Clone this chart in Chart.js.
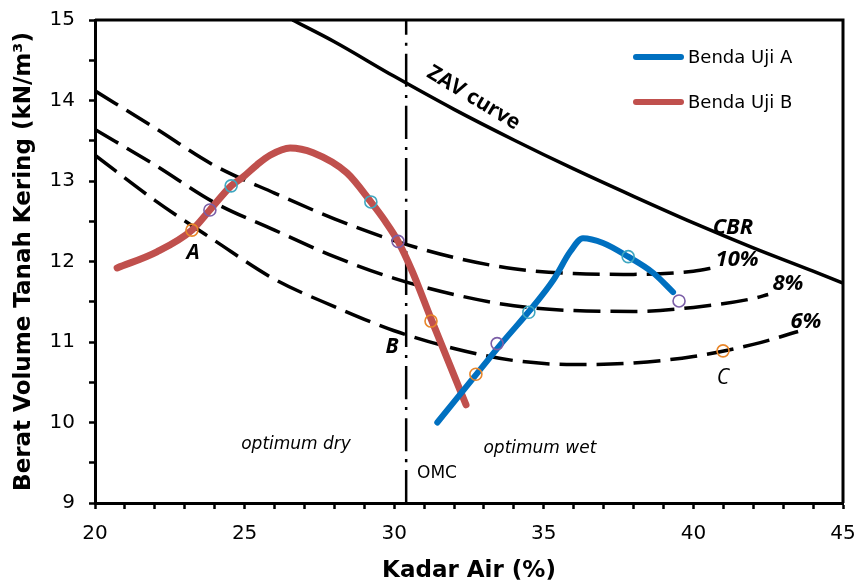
<!DOCTYPE html>
<html>
<head>
<meta charset="utf-8">
<script src="https://cdn.jsdelivr.net/npm/chart.js@4.4.0/dist/chart.umd.min.js"></script>
<style>
  html, body { margin: 0; padding: 0; background: #fff; }
  canvas { display: block; }
</style>
</head>
<body>
<canvas id="chart" width="861" height="586"></canvas>
<script>
'use strict'

// data
const bendaA_x = [31.44, 33.4, 35.32, 35.88, 36.31, 36.98, 37.82, 38.65, 39.32]
const bendaA_y = [10.0, 10.9, 11.77, 12.12, 12.29, 12.23, 12.06, 11.86, 11.62]

const bendaB_x = [20.74, 22.07, 23.24, 23.84, 24.55, 24.95, 25.41, 25.85, 26.52, 27.29, 28.42, 29.22, 29.7, 30.13, 30.6, 31.23, 32.4]
const bendaB_y = [11.92, 12.12, 12.39, 12.64, 12.94, 13.05, 13.2, 13.32, 13.41, 13.35, 13.1, 12.74, 12.5, 12.25, 11.88, 11.29, 10.22]

const zav_x = [26.6, 28, 30, 32, 34, 36, 38, 40, 42, 44, 45]
const zav_y = [15.0, 14.73, 14.3, 13.89, 13.51, 13.15, 12.81, 12.48, 12.17, 11.88, 11.73]

const cbr10_x = [20, 22, 24, 26, 28, 30, 32, 34, 36, 38, 40, 40.8]
const cbr10_y = [14.12, 13.66, 13.19, 12.85, 12.53, 12.26, 12.05, 11.91, 11.85, 11.84, 11.88, 11.93]

const cbr8_x = [20, 22, 24, 26, 28, 30, 32, 34, 36, 38, 40, 42, 42.5]
const cbr8_y = [13.64, 13.2, 12.73, 12.39, 12.06, 11.79, 11.59, 11.45, 11.39, 11.38, 11.43, 11.54, 11.59]

const cbr6_x = [20, 22, 24, 26, 28, 30, 32, 34, 36, 38, 40, 42, 43.5]
const cbr6_y = [13.32, 12.76, 12.26, 11.78, 11.44, 11.14, 10.92, 10.77, 10.72, 10.74, 10.82, 10.97, 11.13]

const omc_x = [30.4, 30.4]
const omc_y = [9, 15]

// circle markers
const orange_x = [23.24, 31.23, 32.73, 40.99]
const orange_y = [12.39, 11.26, 10.6, 10.89]
const purple_x = [23.84, 30.13, 33.44, 39.52]
const purple_y = [12.64, 12.25, 10.98, 11.51]
const cyan_x = [24.55, 29.22, 34.5, 37.82]
const cyan_y = [12.94, 12.74, 11.37, 12.06]

const xTickLabels = [20, 25, 30, 35, 40, 45]
const yTickLabels = [9, 10, 11, 12, 13, 14, 15]

function pts(xs, ys) {
  return xs.map((x, i) => ({ x: x, y: ys[i] }))
}

const BLUE = '#0070C0'
const RED = '#C0504D'

function lineSet(label, xs, ys, color, width, extra) {
  return Object.assign({
    label: label,
    data: pts(xs, ys),
    showLine: true,
    borderColor: color,
    borderWidth: width,
    pointRadius: 0,
    pointHoverRadius: 0,
    fill: false,
    cubicInterpolationMode: 'monotone',
    order: 2
  }, extra || {})
}

function circleSet(label, xs, ys, color) {
  return {
    label: label,
    data: pts(xs, ys),
    showLine: false,
    pointRadius: 6,
    pointBorderWidth: 1.6,
    pointBorderColor: color,
    pointBackgroundColor: 'rgba(0,0,0,0)',
    order: 0
  }
}

const notes = [
  { text: 'A', x: 23.28, y: 12.11, font: 'italic bold 21px "Open Sans"' },
  { text: 'B', x: 29.93, y: 10.94, font: 'italic bold 21px "Open Sans"' },
  { text: 'C', x: 40.99, y: 10.55, font: 'italic 21px "Open Sans"' },
  { text: 'CBR', x: 41.32, y: 12.42, font: 'italic bold 22px "Open Sans"' },
  { text: '10%', x: 41.46, y: 12.02, font: 'italic bold 22px "Open Sans"' },
  { text: '8%', x: 43.16, y: 11.73, font: 'italic bold 22px "Open Sans"' },
  { text: '6%', x: 43.76, y: 11.25, font: 'italic bold 22px "Open Sans"' },
  { text: 'ZAV curve', x: 32.65, y: 14.03, font: 'bold 21px "Open Sans"', rot: 31 },
  { text: 'optimum dry', x: 26.72, y: 9.73, font: 'italic 17px "DejaVu Sans"' },
  { text: 'optimum wet', x: 34.87, y: 9.68, font: 'italic 17px "DejaVu Sans"' },
  { text: 'OMC', x: 31.43, y: 9.36, font: '17px "DejaVu Sans"' }
]

const legendItems = [
  { text: 'Benda Uji A', color: BLUE, y: 57 },
  { text: 'Benda Uji B', color: RED, y: 102 }
]

const frame = {
  id: 'frame',
  beforeDatasetsDraw(chart) {
    const { ctx, chartArea: a } = chart
    ctx.save()
    ctx.strokeStyle = '#000'
    ctx.lineWidth = 3
    ctx.beginPath()
    ctx.moveTo(a.left, a.top)
    ctx.lineTo(a.right, a.top)
    ctx.lineTo(a.right, a.bottom)
    ctx.stroke()
    ctx.restore()
  },
  afterDatasetsDraw(chart) {
    const { ctx, scales } = chart
    ctx.save()
    ctx.fillStyle = '#000'
    ctx.textAlign = 'center'
    ctx.textBaseline = 'middle'
    notes.forEach(n => {
      const px = scales.x.getPixelForValue(n.x)
      const py = scales.y.getPixelForValue(n.y)
      ctx.save()
      ctx.font = n.font
      ctx.translate(px, py)
      if (n.rot) ctx.rotate(n.rot * Math.PI / 180)
      ctx.fillText(n.text, 0, 0)
      ctx.restore()
    })

    // legend
    ctx.font = '18px "DejaVu Sans"'
    ctx.textAlign = 'left'
    legendItems.forEach(it => {
      ctx.strokeStyle = it.color
      ctx.lineWidth = 6
      ctx.lineCap = 'round'
      ctx.beginPath()
      ctx.moveTo(636, it.y)
      ctx.lineTo(681, it.y)
      ctx.stroke()
      ctx.fillText(it.text, 688, it.y + 1)
    })
    ctx.restore()
  }
}

const tickFont = { family: 'DejaVu Sans', size: 20 }
const titleFont = { family: 'DejaVu Sans', size: 23, weight: 'bold' }
const CBR_DASH = [27, 10]

new Chart(document.getElementById('chart'), {
  type: 'scatter',
  data: {
    datasets: [
      lineSet('Benda Uji A', bendaA_x, bendaA_y, BLUE, 6, { borderCapStyle: 'round', order: 1 }),
      lineSet('Benda Uji B', bendaB_x, bendaB_y, RED, 7, { borderCapStyle: 'round', order: 1 }),
      lineSet('ZAV', zav_x, zav_y, '#000', 3.5),
      lineSet('CBR 10%', cbr10_x, cbr10_y, '#000', 3.5, { borderDash: CBR_DASH }),
      lineSet('CBR 8%', cbr8_x, cbr8_y, '#000', 3.5, { borderDash: CBR_DASH }),
      lineSet('CBR 6%', cbr6_x, cbr6_y, '#000', 3.5, { borderDash: CBR_DASH }),
      lineSet('OMC', omc_x, omc_y, '#000', 2.5, { borderDash: [33, 8, 3, 8] }),
      circleSet('p1', orange_x, orange_y, '#E8862A'),
      circleSet('p2', purple_x, purple_y, '#7B5EA7'),
      circleSet('p3', cyan_x, cyan_y, '#3FA7C0')
    ]
  },
  options: {
    responsive: false,
    devicePixelRatio: 1,
    animation: false,
    layout: { autoPadding: false, padding: { top: 20, right: 18, left: 0, bottom: 0 } },
    plugins: {
      legend: { display: false },
      tooltip: { enabled: false }
    },
    scales: {
      x: {
        type: 'linear',
        min: 20,
        max: 45,
        afterFit(scale) {
          scale.height = 83
          scale.paddingLeft = 0
          scale.paddingRight = 0
        },
        border: { display: true, color: '#000', width: 3 },
        grid: { drawOnChartArea: false, drawTicks: true, tickLength: 6, tickWidth: 2.5, tickColor: '#000' },
        ticks: {
          stepSize: 1,
          autoSkip: false,
          maxRotation: 0,
          color: '#000',
          font: tickFont,
          padding: 13,
          callback: v => xTickLabels.includes(v) ? String(v) : ''
        },
        title: { display: true, text: 'Kadar Air (%)', color: '#000', font: titleFont, padding: { top: 0, bottom: 1 } }
      },
      y: {
        type: 'linear',
        min: 9,
        max: 15,
        afterFit(scale) {
          scale.width = 95
          scale.paddingTop = 0
          scale.paddingBottom = 0
        },
        border: { display: true, color: '#000', width: 3 },
        grid: { drawOnChartArea: false, drawTicks: true, tickLength: 6, tickWidth: 2.5, tickColor: '#000' },
        ticks: {
          stepSize: 0.5,
          autoSkip: false,
          color: '#000',
          font: tickFont,
          padding: 14,
          callback: v => yTickLabels.includes(v) ? String(v) : ''
        },
        title: { display: true, text: 'Berat Volume Tanah Kering (kN/m³)', color: '#000', font: titleFont, padding: { top: 10, bottom: 0 } }
      }
    }
  },
  plugins: [frame]
})
</script>
</body>
</html>
